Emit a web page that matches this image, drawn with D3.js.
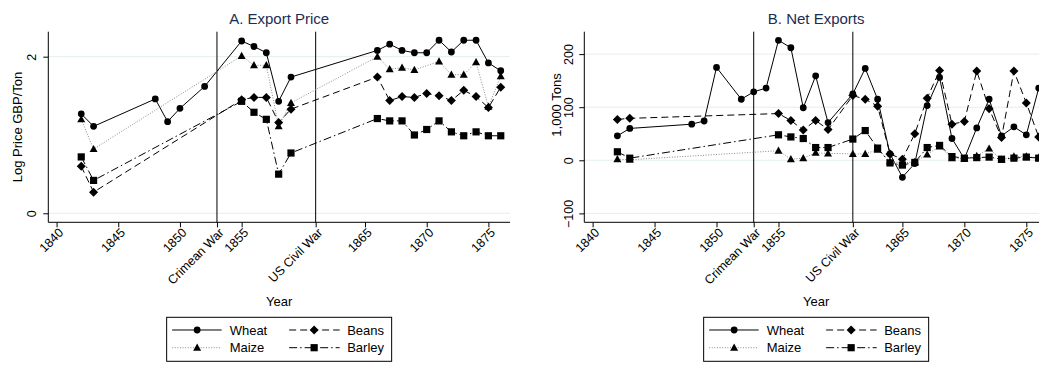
<!DOCTYPE html>
<html>
<head>
<meta charset="utf-8">
<script src="https://cdn.jsdelivr.net/npm/d3@7"></script>
<style>
  body { margin: 0; background: #fff; }
  svg { display: block; font-family: "Liberation Sans", Arial, Helvetica, sans-serif; }
</style>
</head>
<body>
<svg id="chart" width="1039" height="365"></svg>
<script>
// Annual observations, 1842-1876 (null = no observation that year)
const years = [1842, 1843, 1844, 1845, 1846, 1847, 1848, 1849, 1850, 1851, 1852, 1853, 1854,
               1855, 1856, 1857, 1858, 1859, 1860, 1861, 1862, 1863, 1864, 1865, 1866, 1867,
               1868, 1869, 1870, 1871, 1872, 1873, 1874, 1875, 1876];

// A. Log export price, GBP per ton
const wheatPrice  = [1.27, 1.11, null, null, null, null, 1.46, 1.17, 1.34, null, 1.62, null, null,
                     2.20, 2.13, 2.05, 1.43, 1.74, null, null, null, null, null, null, 2.08, 2.16,
                     2.08, 2.05, 2.05, 2.21, 2.06, 2.21, 2.21, 1.92, 1.82];
const maizePrice  = [1.20, 0.82, null, null, null, null, null, null, null, null, null, null, null,
                     2.01, 1.89, 1.89, 1.11, 1.41, null, null, null, null, null, null, 2.00, 1.84,
                     1.86, 1.83, null, 1.94, 1.77, 1.77, 1.93, 1.36, 1.75];
const beansPrice  = [0.60, 0.27, null, null, null, null, null, null, null, null, null, null, null,
                     1.45, 1.48, 1.48, 1.16, 1.33, null, null, null, null, null, null, 1.74, 1.44,
                     1.49, 1.48, 1.53, 1.50, 1.44, 1.57, 1.49, 1.35, 1.61];
const barleyPrice = [0.72, 0.42, null, null, null, null, null, null, null, null, null, null, null,
                     1.43, 1.29, 1.20, 0.50, 0.77, null, null, null, null, null, null, 1.21, 1.18,
                     1.18, 1.00, 1.07, 1.18, 1.04, 0.99, 1.04, 0.99, 0.99];

// B. Net exports, 1,000 tons
const wheatNet  = [46, 60, null, null, null, null, 68, 74, 175, null, 115, 129, 136,
                   226, 212, 99, 159, 71, null, 125, 173, 115, 12, -32, -6, 103,
                   156, 41, 3, 61, 115, 46, 63, 48, 136];
const maizeNet  = [2, 1, null, null, null, null, null, null, null, null, null, null, null,
                   18, 2, 4, 14, 13, null, 12, 12, 20, -2, -5, -3, 11,
                   26, 4, 3, 8, 22, 1, 7, 7, 5];
const beansNet  = [77, 79, null, null, null, null, null, null, null, null, null, null, null,
                   88, 75, 57, 75, 58, null, 122, 115, 102, 12, 2, 50, 117,
                   169, 68, 73, 168, 97, 43, 168, 108, 44];
const barleyNet = [16, 4, null, null, null, null, null, null, null, null, null, null, null,
                   48, 44, 41, 24, 24, null, 40, 56, 23, -5, -9, -4, 24,
                   28, 7, 4, 5, 6, 2, 4, 6, 4];

// Axis ticks and event markers
const xTickValues = [1840, 1845, 1850, 1853, 1855, 1861, 1865, 1870, 1875];
const xTickLabels = ["1840", "1845", "1850", "Crimean War", "1855", "US Civil War", "1865", "1870", "1875"];
const warYears = [1853, 1861];
const priceTicks = [0, 2];
const exportTicks = [-100, 0, 100, 200];
const cropNames = ["Wheat", "Beans", "Maize", "Barley"];

// ---- styling ----
const styles = {
  Wheat:  { symbol: "circle",   dash: null,          stroke: "#000", width: 1 },
  Beans:  { symbol: "diamond",  dash: "7 4",         stroke: "#000", width: 1 },
  Maize:  { symbol: "triangle", dash: "1 1.6",       stroke: "#8a8a8a", width: 1 },
  Barley: { symbol: "square",   dash: "8 3 1.5 3",   stroke: "#000", width: 1 }
};

function symbolPath(kind) {
  switch (kind) {
    case "circle":  return d3.symbol(d3.symbolCircle, Math.PI * 3.4 * 3.4)();
    case "square":  return "M-3.6,-3.6H3.6V3.6H-3.6Z";
    case "diamond": return "M0,-4.5L4.5,0L0,4.5L-4.5,0Z";
    case "triangle":return "M0,-4.2L4,3L-4,3Z";
  }
}

const svg = d3.select("#chart");
svg.append("rect").attr("width", 1039).attr("height", 365).attr("fill", "#fff");

const panels = [
  {
    title: "A. Export Price", yTitle: "Log Price GBP/Ton",
    left: 48.3, right: 510, yDomain: [-0.115, 2.319], yTicks: priceTicks,
    yTitleX: 21.5, yTitleY: 127, tickOffset: 12.3,
    data: { Wheat: wheatPrice, Maize: maizePrice, Beans: beansPrice, Barley: barleyPrice }
  },
  {
    title: "B. Net Exports", yTitle: "1,000 Tons",
    left: 584.3, right: 1048, yDomain: [-116.8, 242.2], yTicks: exportTicks,
    yTitleX: 560.5, yTitleY: 105, tickOffset: 11.5,
    data: { Wheat: wheatNet, Maize: maizeNet, Beans: beansNet, Barley: barleyNet }
  }
];

const plotTop = 31.7, plotBottom = 222.3;
const fmt = d => d < 0 ? "\u2212" + Math.abs(d) : String(d);

panels.forEach(p => {
  const x = d3.scaleLinear().domain([1839.33, 1876.75]).range([p.left, p.right]);
  const y = d3.scaleLinear().domain(p.yDomain).range([plotBottom, plotTop]);
  const g = svg.append("g");
  const cx = (p.left + p.right) / 2;

  // gridlines
  g.append("g").selectAll("line").data(p.yTicks).join("line")
    .attr("x1", p.left).attr("x2", p.right)
    .attr("y1", d => y(d)).attr("y2", d => y(d))
    .attr("stroke", "#e4edef").attr("stroke-width", 1);

  // event lines
  g.append("g").selectAll("line").data(warYears).join("line")
    .attr("x1", d => x(d)).attr("x2", d => x(d))
    .attr("y1", plotTop).attr("y2", plotBottom)
    .attr("stroke", "#000").attr("stroke-width", 1);

  // series: lines first, then markers
  cropNames.forEach(name => {
    const st = styles[name];
    const pts = years.map((yr, i) => [yr, p.data[name][i]]).filter(d => d[1] !== null);
    g.append("path")
      .datum(pts)
      .attr("fill", "none")
      .attr("stroke", st.stroke)
      .attr("stroke-width", st.width)
      .attr("stroke-dasharray", st.dash)
      .attr("d", d3.line().x(d => x(d[0])).y(d => y(d[1])));
  });
  cropNames.forEach(name => {
    const st = styles[name];
    const pts = years.map((yr, i) => [yr, p.data[name][i]]).filter(d => d[1] !== null);
    g.append("g").selectAll("path").data(pts).join("path")
      .attr("d", symbolPath(st.symbol))
      .attr("transform", d => `translate(${x(d[0])},${y(d[1])})`)
      .attr("fill", "#000");
  });

  // x axis
  const xAxis = d3.axisBottom(x)
    .tickValues(xTickValues)
    .tickFormat((d, i) => xTickLabels[i])
    .tickSize(5).tickSizeOuter(0);
  const xg = g.append("g").attr("transform", `translate(0,${plotBottom})`).call(xAxis);
  xg.select(".domain").attr("d", `M${p.left},0H${p.right}`).attr("stroke", "#000");
  xg.selectAll(".tick line").attr("stroke", "#000");
  xg.selectAll(".tick text")
    .attr("x", 0).attr("y", 0).attr("dy", "0.35em")
    .attr("text-anchor", "end")
    .attr("transform", "translate(4,8) rotate(-45)")
    .attr("font-size", 12.5).attr("fill", "#000")
    .attr("font-family", "Liberation Sans, Arial, sans-serif");

  // y axis
  const yAxis = d3.axisLeft(y).tickValues(p.yTicks).tickFormat(fmt).tickSize(5).tickSizeOuter(0);
  const yg = g.append("g").attr("transform", `translate(${p.left},0)`).call(yAxis);
  yg.select(".domain").attr("d", `M0,${plotTop}V${plotBottom}`).attr("stroke", "#000");
  yg.selectAll(".tick line").attr("stroke", "#000");
  yg.selectAll(".tick text")
    .attr("x", 0).attr("y", 0).attr("dy", 0)
    .attr("text-anchor", "middle")
    .attr("transform", `translate(${-p.tickOffset},0) rotate(-90)`)
    .attr("font-size", 12.5).attr("fill", "#000")
    .attr("font-family", "Liberation Sans, Arial, sans-serif");

  // titles
  g.append("text").attr("x", cx).attr("y", 24).attr("text-anchor", "middle")
    .attr("font-size", 15).attr("fill", "#1c2d54").text(p.title);
  g.append("text").attr("x", cx).attr("y", 306).attr("text-anchor", "middle")
    .attr("font-size", 13).attr("fill", "#000").text("Year");
  g.append("text")
    .attr("transform", `translate(${p.yTitleX},${p.yTitleY}) rotate(-90)`)
    .attr("text-anchor", "middle").attr("font-size", 13).attr("fill", "#000")
    .text(p.yTitle);

  // legend
  const lw = 225, lx = cx - lw / 2, ly = 317.3, lh = 44;
  const lg = g.append("g").attr("transform", `translate(${lx},${ly})`);
  lg.append("rect").attr("width", lw).attr("height", lh)
    .attr("fill", "#fff").attr("stroke", "#000").attr("stroke-width", 1);
  const rowsY = [12.7, 30.4];
  const cols = [{ l0: 5.5, l1: 55, m: 30.5, t: 63 }, { l0: 122.5, l1: 173, m: 147.5, t: 180.5 }];
  cropNames.forEach((name, i) => {
    const st = styles[name];
    const c = cols[i % 2], ry = rowsY[Math.floor(i / 2)];
    lg.append("line").attr("x1", c.l0).attr("x2", c.l1).attr("y1", ry).attr("y2", ry)
      .attr("stroke", st.stroke).attr("stroke-width", st.width)
      .attr("stroke-dasharray", st.dash);
    lg.append("path").attr("d", symbolPath(st.symbol))
      .attr("transform", `translate(${c.m},${ry})`).attr("fill", "#000");
    lg.append("text").attr("x", c.t).attr("y", ry + 4.8)
      .attr("font-size", 13).attr("fill", "#000").text(name);
  });
});
</script>
</body>
</html>
